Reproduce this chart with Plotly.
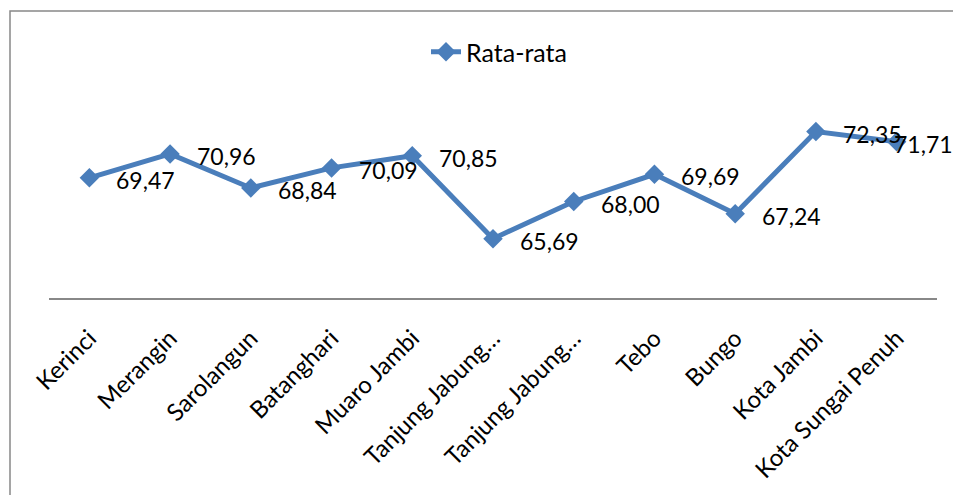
import plotly.graph_objects as go

categories = ["Kerinci", "Merangin", "Sarolangun", "Batanghari", "Muaro Jambi",
              "Tanjung Jabung Barat", "Tanjung Jabung Timur", "Tebo", "Bungo",
              "Kota Jambi", "Kota Sungai Penuh"]
tick_labels = ["Kerinci", "Merangin", "Sarolangun", "Batanghari", "Muaro Jambi",
               "Tanjung Jabung…", "Tanjung Jabung…", "Tebo", "Bungo",
               "Kota Jambi", "Kota Sungai Penuh"]
values = [69.47, 70.96, 68.84, 70.09, 70.85, 65.69, 68.00, 69.69, 67.24, 72.35, 71.71]
value_labels = ["69,47", "70,96", "68,84", "70,09", "70,85", "65,69", "68,00",
                "69,69", "67,24", "72,35", "71,71"]
series_name = "Rata-rata"

FONT = "Lato"
BLUE = "#4a7ebb"
W, H = 953, 495
L, R, T, B = 49, W - 937, 105, H - 298

x_idx = list(range(len(categories)))

fig = go.Figure()
fig.add_trace(go.Scatter(
    x=x_idx, y=values, name=series_name, mode="lines+markers",
    line=dict(color=BLUE, width=5),
    marker=dict(symbol="diamond", size=15, color=BLUE),
    showlegend=True,
))

for i, (v, lab) in enumerate(zip(values, value_labels)):
    xs = -5 if i == len(values) - 1 else 25
    fig.add_annotation(x=i, y=v, text=lab, showarrow=False, xanchor="left",
                       yanchor="middle", xshift=xs, yshift=-2,
                       font=dict(family=FONT, size=23, color="black"))

pw, ph = W - L - R, H - T - B
fig.add_shape(type="rect", xref="paper", yref="paper",
              x0=(10 - L) / pw, x1=(W + 20 - L) / pw,
              y0=(298 - (H + 20)) / ph, y1=(298 - 11) / ph,
              line=dict(color="#888888", width=1.5), fillcolor="rgba(0,0,0,0)",
              layer="below")

fig.update_layout(
    width=W, height=H,
    margin=dict(l=L, r=R, t=T, b=B),
    paper_bgcolor="white", plot_bgcolor="white",
    font=dict(family=FONT, size=24, color="black"),
    legend=dict(x=(426 - L) / pw, y=(298 - 52) / ph, xanchor="left", yanchor="middle",
                orientation="h", bgcolor="rgba(0,0,0,0)",
                font=dict(family=FONT, size=25, color="black")),
    xaxis=dict(range=[-0.5, len(categories) - 0.5], tickmode="array",
               tickvals=x_idx, ticktext=tick_labels, tickangle=-45,
               showline=True, linecolor="#888888", linewidth=1.5,
               showgrid=False, zeroline=False, ticks="", ticklabelstandoff=15,
               tickfont=dict(family=FONT, size=24, color="black")),
    yaxis=dict(range=[62, 74], visible=False, showgrid=False, zeroline=False),
)

fig.write_html("out.html")
